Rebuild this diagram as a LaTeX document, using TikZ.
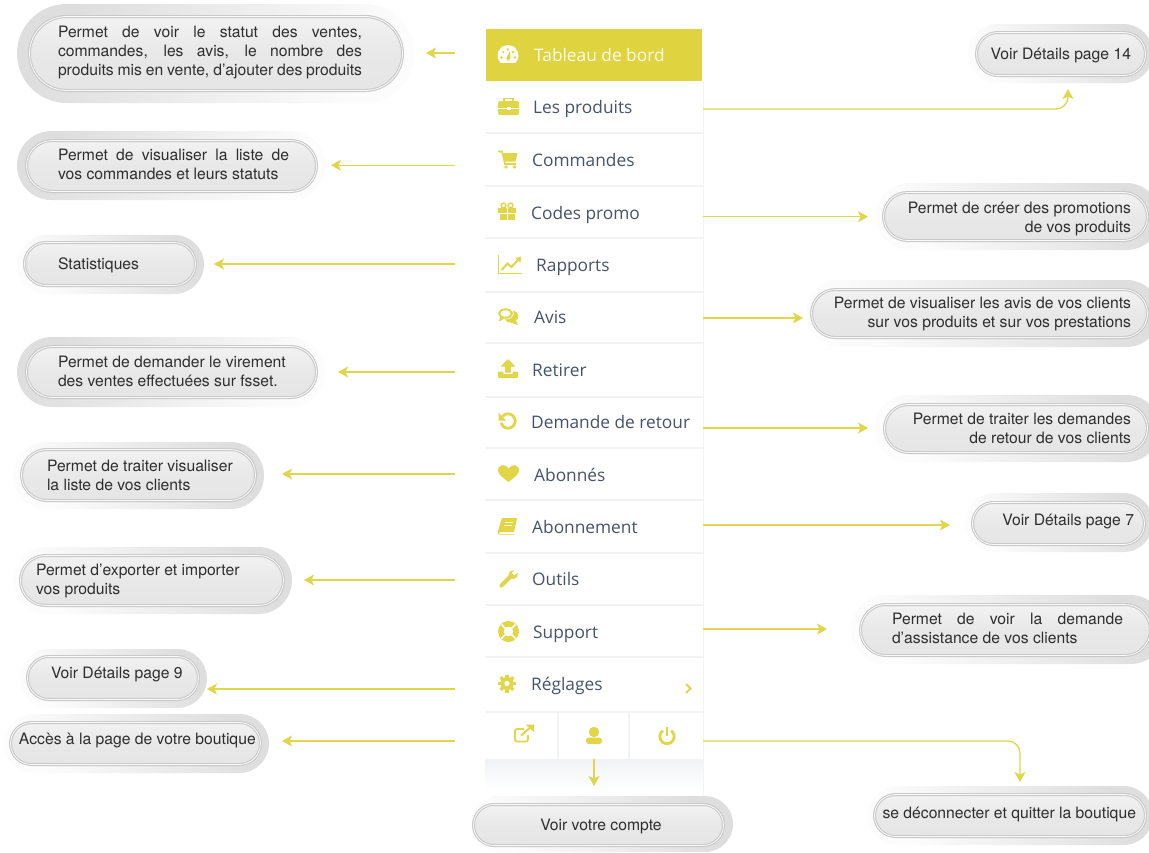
\documentclass[tikz,border=0pt]{standalone}
\usepackage{fontspec}
\setmainfont{TeX Gyre Heros}
\newfontfamily\menufont{Open Sans}
\usetikzlibrary{arrows.meta,calc}
\definecolor{barcol}{HTML}{DFD340}
\definecolor{yic}{HTML}{E1D548}
\definecolor{yline}{HTML}{E0D64A}
\definecolor{menutxt}{HTML}{46536A}
\definecolor{sepc}{HTML}{F1F3F5}
\definecolor{shadec}{HTML}{EFF2F6}
\tikzset{
 x=1pt,y=-1pt,
 pillin/.style={shape=rectangle,inner sep=0pt,outer sep=0pt,top color=black!5,bottom color=black!10,middle color=black!9,draw=black!21,line width=1.1pt,double=black!2,double distance=.8pt},
 grayleft/.style={top color=black!13,bottom color=black!1,shading angle=60},
 grayright/.style={top color=black!13,bottom color=black!1,shading angle=-60},
 pillside/.style={grayleft},
 pillout/.style={shape=rectangle,inner sep=0pt,outer sep=0pt,pillside},
 lab/.style={inner sep=0pt,outer sep=0pt,text=black!82,font=\fontsize{15.7}{19}\selectfont},
 menulab/.style={inner sep=0pt,anchor=west,text=menutxt,text height=15pt,text depth=3pt,font=\menufont\fontsize{17.3}{20}\selectfont},
 row/.style={shape=rectangle,inner sep=0pt,outer sep=0pt,minimum width=218pt,minimum height=50pt},
 cell/.style={shape=rectangle,inner sep=0pt,outer sep=0pt,minimum width=72pt,minimum height=36pt},
 conn/.style={draw=yline,line width=1.3pt,-{Stealth[length=10pt,width=11pt,inset=2.5pt]}},
 sep/.style={draw=sepc,line width=1.6pt},
}
\newcommand{\pill}[9]{%
 \pgfmathsetmacro\pw{#4-#2}\pgfmathsetmacro\ph{#5-#3}\pgfmathsetmacro\pr{(#5-#3)/2}%
 \node[pillout,minimum width=\pw pt,minimum height=\ph pt,rounded corners=\pr pt] (#1) at ({(#2+#4)/2},{(#3+#5)/2}) {};
 \pgfmathsetmacro\pw{#8-#6-3}\pgfmathsetmacro\ph{#9-#7-3}\pgfmathsetmacro\pr{(#9-#7-3)/2}%
 \node[pillin,minimum width=\pw pt,minimum height=\ph pt,rounded corners=\pr pt] (#1i) at ({(#6+#8)/2},{(#7+#9)/2}) {};
}
\begin{document}
\begin{tikzpicture}
\useasboundingbox (0,0) rectangle (1149,852);
\clip (0,0) rectangle (1149,852);
\fill[white] (0,0) rectangle (1149,852);
% menu panel
\shade[top color=shadec,bottom color=white] (485,759) rectangle (703,790);
\draw[sepc,line width=1pt] (703,81) -- (703,796);
\fill[barcol] (486,29) rectangle (702,81);
\foreach \yy in {133,186,238,292,343,397,448,500,553,605,657,712}
  \draw[sep] (485,\yy) -- (703,\yy);
\draw[sep] (558,712) -- (558,759);
\draw[sep] (629,712) -- (629,759);
% row anchors
\foreach \nm/\yy in {m1/53,m2/109,m3/165.2,m4/216.7,m5/264,m6/318,m7/372,m8/428,m9/474,m10/525,m11/580,m12/629,m13/689}
  \node[row] (\nm) at (594,\yy) {};
\node[cell] (m14) at (521,741) {};
\node[cell] (m15) at (594,741) {};
\node[cell] (m16) at (667,741) {};
% menu labels
\node[menulab,text=white!92!barcol] (l1) at (534,55.5) {Tableau de bord};
\node[menulab] (l2) at (533,107.5) {Les produits};
\node[menulab] (l3) at (532,160) {Commandes};
\node[menulab] (l4) at (531,213) {Codes promo};
\node[menulab] (l5) at (536,265.5) {Rapports};
\node[menulab] (l6) at (534,317.5) {Avis};
\node[menulab] (l7) at (532,370) {Retirer};
\node[menulab] (l8) at (531,422.5) {Demande de retour};
\node[menulab] (l9) at (534,475) {Abonnés};
\node[menulab] (l10) at (532,527) {Abonnement};
\node[menulab] (l11) at (532,579) {Outils};
\node[menulab] (l12) at (533,632) {Support};
\node[menulab] (l13) at (531,684) {Réglages};
% icons
% gauge
\fill[white] (508,55.5) circle (10.5);
\fill[barcol] (496,62.5) rectangle (520,67);
\fill[barcol] (508,61) -- (506.3,58) -- (510,51) -- (510.5,58) -- cycle;
\fill[barcol] (501.5,57.5) circle (1.3) (503.3,52) circle (1.3) (508,49.5) circle (1.3) (513,52) circle (1.3) (515,57.5) circle (1.3);
% briefcase
\fill[yic,rounded corners=1.5pt] (498,101) rectangle (519,115);
\draw[yic,line width=1.4pt] (504,101) -- (504,98.6) -- (513,98.6) -- (513,101);
\draw[white,line width=1pt] (498,108) -- (519,108);
\fill[white] (506.5,106.5) rectangle (510.5,110);
% cart
\draw[yic,line width=1.6pt] (498,151.5) -- (502,151.5) -- (505,164) -- (516,164);
\fill[yic] (502.5,153) -- (517.5,153) -- (515.5,161.5) -- (504.5,161.5) -- cycle;
\fill[yic] (506,167) circle (1.9) (514.5,167) circle (1.9);
% gift
\fill[yic] (498,208) rectangle (516,212.5);
\fill[yic] (499.5,213.5) rectangle (514.5,220);
\draw[white,line width=.8pt] (507,208) -- (507,220);
\draw[yic,line width=1.5pt] (503.5,205.5) circle (2.4) (510.5,205.5) circle (2.4);
% chart
\draw[yic,line width=1pt] (498.5,255) -- (498.5,273.5) -- (522,273.5);
\draw[yic,line width=2pt] (501.5,270) -- (507.5,263.5) -- (511.5,267) -- (518.5,259.5);
\fill[yic] (515.5,258) -- (521,256.5) -- (520.5,262.5) -- cycle;
% comments
\draw[yic,line width=2pt] (505.5,313.5) ellipse (6.4 and 4.2);
\fill[yic] (500,317) -- (499,321.5) -- (504.5,318.5) -- cycle;
\fill[yic] (513,310.5) .. controls (519,312) and (520,318) .. (516,320.5) -- (518,325) -- (510.5,322.5) .. controls (508,322.5) and (506,321.5) .. (505,319.5) .. controls (510,320) and (516,316) .. (513,310.5) -- cycle;
% upload
\fill[yic] (508,359) -- (515.5,366.5) -- (511,366.5) -- (511,372.5) -- (505,372.5) -- (505,366.5) -- (500.5,366.5) -- cycle;
\fill[yic,rounded corners=1pt] (498,371.5) rectangle (503.5,378);
\fill[yic,rounded corners=1pt] (512.5,371.5) rectangle (518,378);
\fill[yic] (500,374) rectangle (516,378);
% undo
\draw[yic,line width=2.8pt] (508,421) ++(-140:7.2) arc[start angle=-140,end angle=165,radius=7.2];
\fill[yic] (498.5,412.5) -- (498.5,420.5) -- (506,420.5) -- cycle;
% heart
\fill[yic] (508.5,482) .. controls (501,476.5) and (498,473.5) .. (498,470.5) .. controls (498,464) and (506,463.5) .. (508.5,468.5) .. controls (511,463.5) and (519,464) .. (519,470.5) .. controls (519,473.5) and (516,476.5) .. (508.5,482) -- cycle;
% book
\fill[yic] (502,518) -- (517,518) -- (514,532) -- (500,532) -- (498,535) -- (498,531) -- cycle;
\draw[yic!70!white,line width=1pt] (499,534.5) -- (513.5,534.5);
\draw[white!80!yic,line width=.7pt] (504.5,522) -- (513,522) (504,525) -- (512,525);
% wrench
\draw[yic,line width=4.2pt,line cap=round] (501.5,585.5) -- (511.5,575.5);
\fill[yic] (512.5,570.5) .. controls (509,571) and (508,574) .. (509,578) -- (514,579) .. controls (517,578) and (518.5,575.5) .. (518,572.5) -- (514.5,575.5) -- (512.5,574.5) -- (512,572) -- (515,570.8) -- cycle;
% lifebuoy
\fill[yic] (508.5,631.5) circle (10.5);
\fill[white] (508.5,631.5) circle (4.8);
\draw[white,line width=1.5pt] (501.5,624.5) -- (505.5,628.5) (515.5,624.5) -- (511.5,628.5) (501.5,638.5) -- (505.5,634.5) (515.5,638.5) -- (511.5,634.5);
% gear
\fill[yic] (507,683.5) circle (6.5);
\foreach \aa in {0,45,90,135}
  \draw[yic,line width=3.4pt] (507,683.5) ++(\aa:9) -- ++(\aa+180:18);
\fill[white] (507,683.5) circle (2.6);
% chevron
\draw[yic,line width=1.8pt] (686,684) -- (690.5,688.5) -- (686,693);
% external link
\draw[yic,line width=1.8pt,rounded corners=2pt] (524,729) -- (515,729) -- (515,741.5) -- (528,741.5) -- (528,735);
\draw[yic,line width=2pt] (521,735.5) -- (531,727);
\fill[yic] (525.5,724.5) -- (534,724.5) -- (534,732) -- cycle;
% user
\fill[yic] (594,732) circle (5.2);
\fill[yic,rounded corners=3pt] (586,737.5) rectangle (602,744);
% power
\draw[yic,line width=2.8pt] (667,736.5) ++(-55:7.2) arc[start angle=-55,end angle=235,radius=7.2];
\draw[yic,line width=2.8pt] (667,727) -- (667,736);
% pills left
\pill{p1}{17}{4}{414}{103}{28}{15}{404}{92}
\pill{p2}{17}{131}{325}{200}{25}{139}{318}{193}
\pill{p4}{17}{337}{325}{407}{25}{345}{318}{399}
\tikzset{pillside/.style={grayright}}
\pill{p3}{17}{235}{204}{294}{23}{241}{197}{287}
\pill{p5}{13}{442}{264}{509}{20}{448}{257}{502}
\pill{p6}{13}{547}{292}{614}{19}{554}{285}{607}
\pill{p7}{20}{649}{207}{708}{26}{655}{200}{701}
\pill{p8}{4}{714}{269}{773}{9}{721}{262}{766}
\pill{pa}{471}{796}{733}{852}{472}{803}{725}{847}
% pills right
\pill{r1}{968}{24}{1153}{83}{975}{31}{1147}{77}
\pill{r2}{876}{183}{1160}{250}{882}{191}{1149}{242}
\pill{r3}{806}{280}{1160}{347}{810}{288}{1149}{339}
\pill{r4}{875}{395}{1160}{462}{883}{403}{1149}{454}
\pill{r5}{965}{493}{1153}{552}{971}{501}{1146}{546}
\pill{r6}{851}{595}{1165}{664}{859}{603}{1152}{657}
\pill{r7}{868}{786}{1153}{845}{873}{793}{1147}{838}
% pill texts
\node[lab,anchor=west,align=left] (t1) at (58,52.5) {\hbox to 304pt{Permet de voir le statut des ventes,}\\\hbox to 304pt{commandes, les avis, le nombre des}\\\hbox to 304pt{produits mis en vente, d’ajouter des produits}};
\node[lab,anchor=west,align=left] (t2) at (58,164) {\hbox to 231pt{Permet de visualiser la liste de}\\vos commandes et leurs statuts};
\node[lab,anchor=west] (t3) at (58,265) {Statistiques};
\node[lab,anchor=west,align=left] (t4) at (58,371) {Permet de demander le virement\\des ventes effectuées sur fsset.};
\node[lab,anchor=west,align=left] (t5) at (47,475) {Permet de traiter visualiser\\la liste de vos clients};
\node[lab,anchor=west,align=left] (t6) at (36,581) {Permet d’exporter et importer\\vos produits};
\node[lab,anchor=west] (t7) at (51,674.5) {Voir Détails page 9};
\node[lab,anchor=west] (t8) at (19,740.5) {Accès à la page de votre boutique};
\node[lab] (ta) at (601,826.5) {Voir votre compte};
\node[lab,anchor=east] (u1) at (1131,55.5) {Voir Détails page 14};
\node[lab,anchor=east,align=right] (u2) at (1131,218.5) {Permet de créer des promotions\\de vos produits};
\node[lab,anchor=east,align=right] (u3) at (1131,313.5) {Permet de visualiser les avis de vos clients\\sur vos produits et sur vos prestations};
\node[lab,anchor=east,align=right] (u4) at (1131,428) {Permet de traiter les demandes\\de retour de vos clients};
\node[lab,anchor=east] (u5) at (1134,521.5) {Voir Détails page 7};
\node[lab,anchor=west,align=left] (u6) at (892,628) {\hbox to 231pt{Permet de voir la demande}\\d’assistance de vos clients};
\node[lab,anchor=east] (u7) at (1136,814.5) {se déconnecter et quitter la boutique};
% connectors left
\draw[conn,shorten <=30pt,shorten >=12pt] (m1.west) -- (m1.west -| p1.east);
\draw[conn,shorten <=30pt,shorten >=6pt] (m3.west) -- (m3.west -| p2.east);
\draw[conn,shorten <=30pt,shorten >=10pt] (m5.west) -- (m5.west -| p3.east);
\draw[conn,shorten <=30pt,shorten >=13pt] (m7.west) -- (m7.west -| p4.east);
\draw[conn,shorten <=30pt,shorten >=18pt] (m9.west) -- (m9.west -| p5.east);
\draw[conn,shorten <=30pt,shorten >=12pt] (m11.west) -- (m11.west -| p6.east);
\draw[conn,shorten <=30pt] (m13.west) -- (m13.west -| p7.east);
\draw[conn,shorten <=30pt,shorten >=13pt] (m14.west) -- (m14.west -| p8.east);
% connectors right
\draw[conn,rounded corners=12pt,shorten >=6pt] (m2.east) -| ([xshift=7.5pt]r1.south);
\draw[conn,shorten >=8pt] (m4.east) -- (m4.east -| r2.west);
\draw[conn,shorten >=3pt] (m6.east) -- (m6.east -| r3.west);
\draw[conn,shorten >=7pt] (m8.east) -- (m8.east -| r4.west);
\draw[conn,shorten >=15pt] (m10.east) -- (m10.east -| r5.west);
\draw[conn,shorten >=24pt] (m12.east) -- (m12.east -| r6.west);
\draw[conn,rounded corners=12pt,shorten >=4pt] (m16.east) -| ([xshift=9.5pt]r7.north);
\draw[conn,shorten >=10pt] (m15.south) -- (m15.south |- pa.north);
\end{tikzpicture}
\end{document}
